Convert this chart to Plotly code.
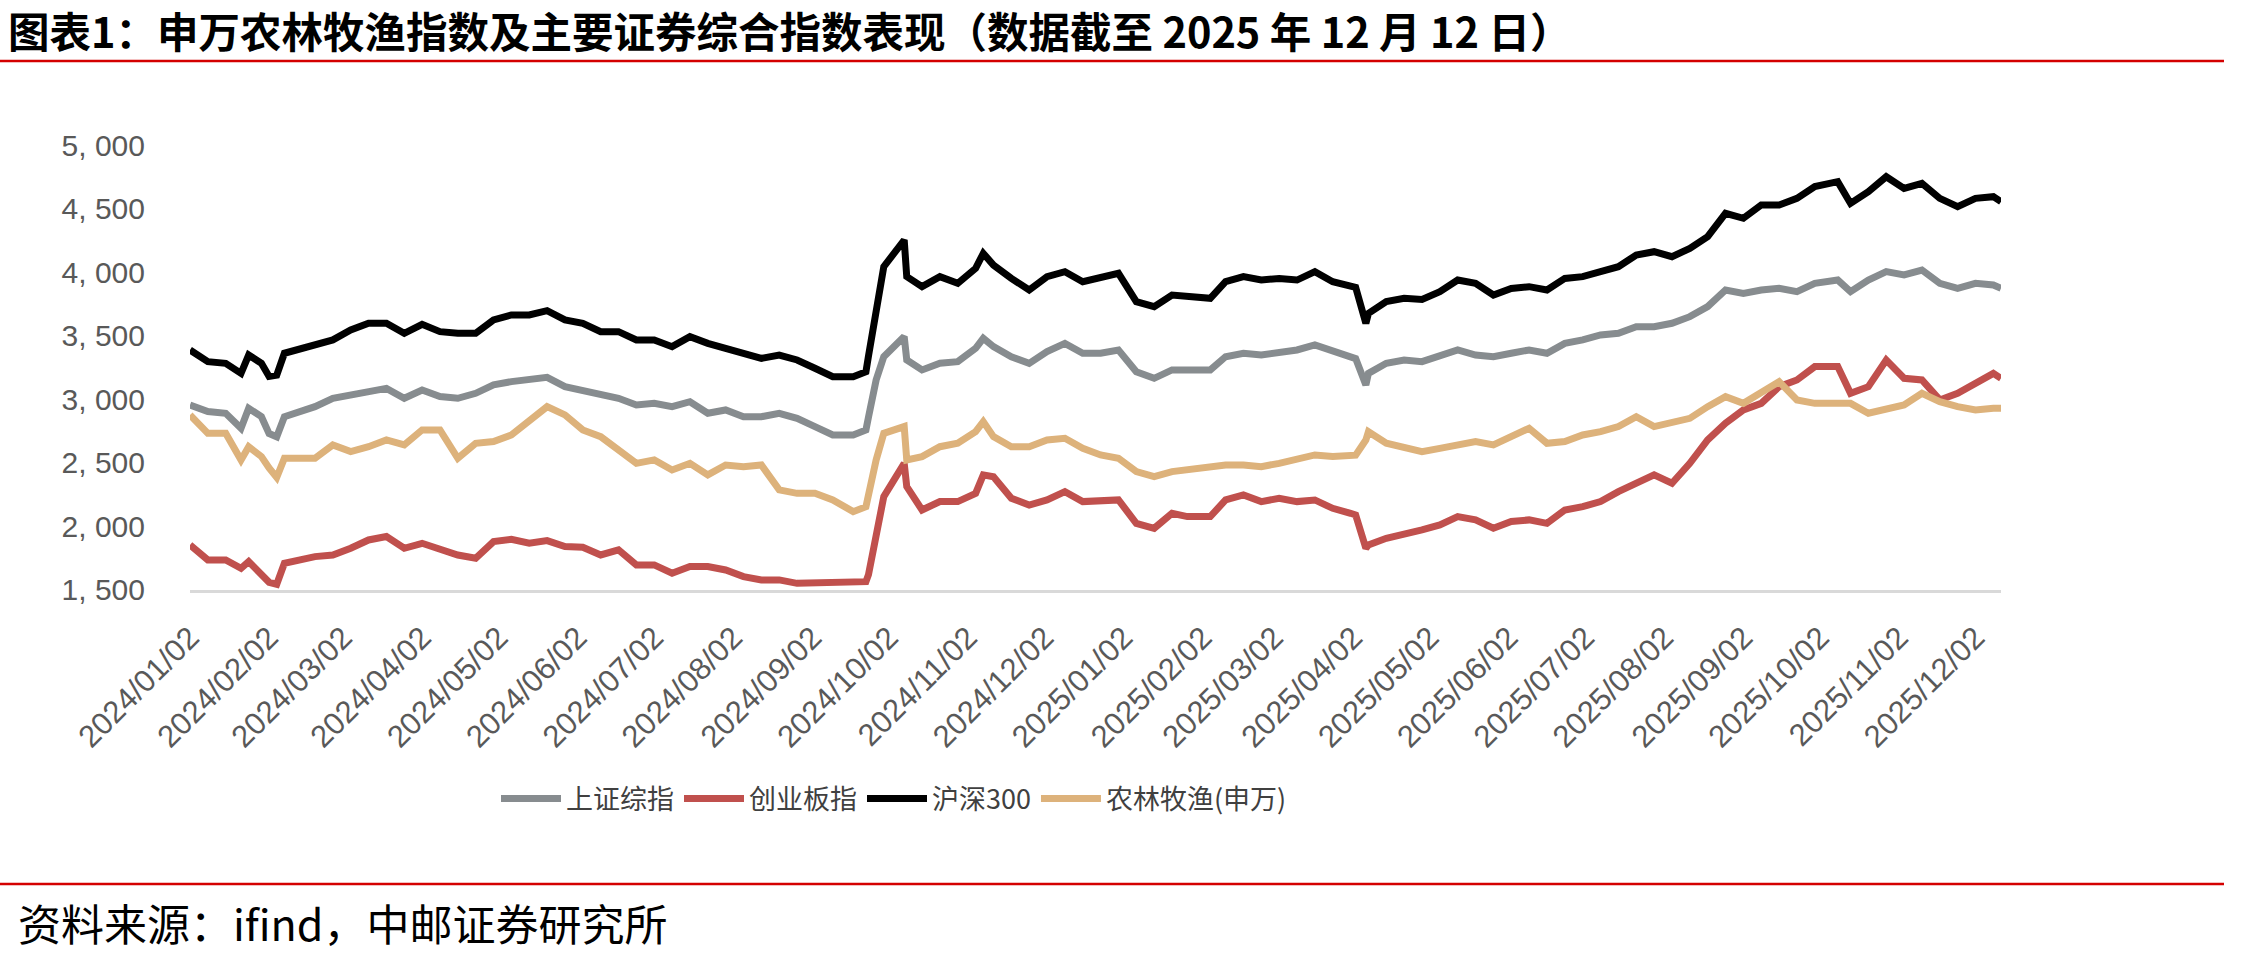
import plotly.graph_objects as go

# ---------------- data ----------------
DATES = [
    "2024-01-02", "2024-01-09", "2024-01-16", "2024-01-22", "2024-01-25", "2024-01-30", "2024-02-02",
    "2024-02-05", "2024-02-08", "2024-02-20", "2024-02-27", "2024-03-05", "2024-03-12", "2024-03-19",
    "2024-03-26", "2024-04-02", "2024-04-09", "2024-04-16", "2024-04-23", "2024-04-30", "2024-05-07",
    "2024-05-14", "2024-05-21", "2024-05-28", "2024-06-04", "2024-06-11", "2024-06-18", "2024-06-25",
    "2024-07-02", "2024-07-09", "2024-07-16", "2024-07-23", "2024-07-30", "2024-08-06", "2024-08-13",
    "2024-08-20", "2024-08-27", "2024-09-03", "2024-09-10", "2024-09-18", "2024-09-23", "2024-09-24",
    "2024-09-27", "2024-09-30", "2024-10-08", "2024-10-09", "2024-10-15", "2024-10-22", "2024-10-29",
    "2024-11-05", "2024-11-08", "2024-11-12", "2024-11-19", "2024-11-26", "2024-12-03", "2024-12-10",
    "2024-12-17",
    "2024-12-24", "2024-12-31", "2025-01-07", "2025-01-14", "2025-01-21", "2025-01-27", "2025-02-05",
    "2025-02-11", "2025-02-18", "2025-02-25", "2025-03-04", "2025-03-11", "2025-03-18", "2025-03-25",
    "2025-04-01", "2025-04-03", "2025-04-07", "2025-04-08", "2025-04-15", "2025-04-22", "2025-04-29",
    "2025-05-06", "2025-05-13", "2025-05-20", "2025-05-27", "2025-06-03", "2025-06-10", "2025-06-17",
    "2025-06-24", "2025-07-01", "2025-07-08", "2025-07-15", "2025-07-22", "2025-07-29", "2025-08-05",
    "2025-08-12", "2025-08-19", "2025-08-26", "2025-09-02", "2025-09-09", "2025-09-16", "2025-09-23",
    "2025-09-30", "2025-10-09", "2025-10-14", "2025-10-21", "2025-10-28", "2025-11-04", "2025-11-11",
    "2025-11-18", "2025-11-25", "2025-12-02", "2025-12-09", "2025-12-12",
]

SSE = [  # 上证综指
    2955, 2903, 2890, 2772, 2929, 2863, 2730, 2705, 2863, 2942, 3008, 3034, 3073, 3086,
    3008, 3073, 3021, 3008, 3047, 3113, 3139, 3152, 3173, 3099, 3073, 3034, 3008, 2955,
    2968, 2942, 2981, 2890, 2916, 2863, 2863, 2890, 2850, 2785, 2719, 2719, 2758, 2860,
    3152, 3335, 3493, 3309, 3231, 3283, 3296, 3401, 3480, 3414, 3335, 3283, 3375, 3440, 3362,
    3362, 3388, 3217, 3165, 3231, 3231, 3231, 3335, 3362, 3348, 3362, 3388, 3427, 3375,
    3335, 3320, 3113, 3204, 3283, 3309, 3296, 3348, 3388, 3348, 3335, 3362, 3388, 3362,
    3440, 3467, 3506, 3519, 3571, 3571, 3598, 3650, 3729, 3860, 3833, 3860, 3873, 3847,
    3912, 3938, 3847, 3938, 4004, 3978, 4017, 3912, 3873, 3912, 3899, 3873,
]

CHINEXT = [  # 创业板指
    1854, 1736, 1736, 1670, 1723, 1631, 1560, 1545, 1710, 1762, 1775, 1828, 1893, 1920,
    1828, 1867, 1815, 1775, 1749, 1880, 1898, 1867, 1888, 1841, 1836, 1775, 1815, 1697,
    1697, 1631, 1684, 1684, 1657, 1605, 1579, 1579, 1552, 1552, 1552, 1552, 1565, 1620,
    1946, 2234, 2496, 2313, 2129, 2195, 2195, 2260, 2405, 2391, 2221, 2168, 2208, 2273, 2195,
    2195, 2208, 2024, 1985, 2103, 2077, 2077, 2208, 2247, 2195, 2221, 2195, 2208, 2142,
    2103, 2090, 1828, 1854, 1906, 1933, 1972, 2011, 2077, 2051, 1985, 2038, 2051, 2024,
    2129, 2155, 2195, 2273, 2339, 2405, 2339, 2496, 2680, 2811, 2916, 2968, 3099, 3152,
    3257, 3257, 3047, 3099, 3309, 3165, 3152, 2995, 3047, 3126, 3204, 3165,
]

CSI300 = [  # 沪深300
    3388, 3296, 3283, 3204, 3348, 3283, 3180, 3190, 3362, 3427, 3467, 3545, 3598, 3598,
    3519, 3590, 3532, 3519, 3519, 3624, 3663, 3663, 3697, 3624, 3598, 3532, 3532, 3467,
    3467, 3414, 3493, 3440, 3401, 3348, 3322, 3348, 3309, 3244, 3178, 3178, 3217, 3340,
    3676, 4043, 4253, 3965, 3886, 3965, 3912, 4030, 4148, 4056, 3951, 3860, 3965, 4004, 3925,
    3965, 3991, 3768, 3729, 3820, 3807, 3794, 3925, 3965, 3938, 3951, 3938, 4004, 3925,
    3899, 3880, 3597, 3676, 3768, 3794, 3786, 3846, 3938, 3912, 3820, 3872, 3886, 3860,
    3951, 3965, 4004, 4043, 4135, 4161, 4122, 4187, 4279, 4463, 4424, 4528, 4528, 4581,
    4673, 4712, 4541, 4633, 4751, 4659, 4699, 4581, 4515, 4581, 4594, 4555,
]

AGRI = [  # 农林牧渔(申万)
    2877, 2732, 2732, 2523, 2627, 2549, 2460, 2385, 2536, 2536, 2641, 2588, 2627, 2680,
    2641, 2759, 2759, 2536, 2654, 2667, 2719, 2837, 2942, 2877, 2759, 2706, 2601, 2496,
    2523, 2444, 2496, 2405, 2483, 2470, 2483, 2287, 2260, 2260, 2208, 2116, 2155, 2250,
    2523, 2732, 2785, 2523, 2549, 2627, 2654, 2745, 2824, 2706, 2627, 2627, 2680, 2693, 2614,
    2562, 2536, 2431, 2391, 2431, 2444, 2457, 2483, 2483, 2470, 2496, 2536, 2562, 2549,
    2562, 2560, 2680, 2745, 2654, 2627, 2588, 2614, 2641, 2667, 2641, 2706, 2772, 2654,
    2667, 2719, 2745, 2785, 2863, 2785, 2824, 2850, 2942, 3021, 2968, 3047, 3139, 2995,
    2968, 2968, 2968, 2890, 2916, 2955, 3047, 2981, 2942, 2916, 2929, 2929,
]

SERIES_NAMES = ["上证综指", "创业板指", "沪深300", "农林牧渔(申万)"]
SERIES_COLORS = ["#878C8F", "#C0504D", "#000000", "#DDB27B"]

X_TICK_LABELS = [
    "2024/01/02", "2024/02/02", "2024/03/02", "2024/04/02", "2024/05/02", "2024/06/02",
    "2024/07/02", "2024/08/02", "2024/09/02", "2024/10/02", "2024/11/02", "2024/12/02",
    "2025/01/02", "2025/02/02", "2025/03/02", "2025/04/02", "2025/05/02", "2025/06/02",
    "2025/07/02", "2025/08/02", "2025/09/02", "2025/10/02", "2025/11/02", "2025/12/02",
]
Y_TICK_VALUES = [1500, 2000, 2500, 3000, 3500, 4000, 4500, 5000]
Y_TICK_LABELS = ["1, 500", "2, 000", "2, 500", "3, 000", "3, 500", "4, 000", "4, 500", "5, 000"]

TITLE = "图表1：申万农林牧渔指数及主要证券综合指数表现（数据截至 2025 年 12 月 12 日）"
SOURCE = "资料来源：ifind，中邮证券研究所"

# ---------------- figure ----------------
W, H = 2257, 960
PL, PR, PT, PB = 190, 2001, 145, 590  # plot area in pixels


def px_x(x):
    return (x - PL) / (PR - PL)


def px_y(y):
    return (PB - y) / (PB - PT)


fig = go.Figure()
for name, color, vals in zip(SERIES_NAMES, SERIES_COLORS, [SSE, CHINEXT, CSI300, AGRI]):
    fig.add_trace(go.Scatter(
        x=DATES, y=vals, mode="lines", name=name,
        line=dict(color=color, width=7, shape="linear"),
        hoverinfo="skip",
    ))

fig.update_layout(
    width=W, height=H,
    margin=dict(l=PL, r=W - PR, t=PT, b=H - PB, pad=0),
    paper_bgcolor="white", plot_bgcolor="white",
    showlegend=True,
    legend=dict(
        orientation="h", x=px_x(894), xanchor="center", y=px_y(799), yanchor="middle",
        font=dict(family="Noto Sans CJK SC", size=27, color="#404040"),
        itemwidth=60, tracegroupgap=0, bgcolor="rgba(0,0,0,0)",
    ),
    font=dict(family="Liberation Sans"),
)

fig.update_xaxes(
    type="date",
    range=["2024-01-02", "2025-12-12"],
    tickvals=[t.replace("/", "-") for t in X_TICK_LABELS],
    ticktext=X_TICK_LABELS,
    tickangle=-45,
    tickfont=dict(family="Liberation Sans", size=31, color="#595959"),
    showgrid=False, zeroline=False,
    showline=True, linecolor="#D9D9D9", linewidth=3,
    ticks="", ticklabelstandoff=14,
)
fig.update_yaxes(
    range=[1499.5, 5000.5],
    tickvals=Y_TICK_VALUES, ticktext=Y_TICK_LABELS,
    tickfont=dict(family="Liberation Sans", size=30, color="#595959"),
    showgrid=False, zeroline=False, showline=False,
    ticks="", ticklabelstandoff=44,
)

# title, divider lines, source
fig.add_annotation(
    text="<b>" + TITLE + "</b>", xref="paper", yref="paper",
    x=px_x(7), y=px_y(30), xanchor="left", yanchor="middle", showarrow=False,
    borderpad=0,
    font=dict(family="Noto Sans CJK SC", size=41.5, color="#000000"),
)
for yy in (61, 884):
    fig.add_shape(
        type="line", xref="paper", yref="paper",
        x0=px_x(0), x1=px_x(2224), y0=px_y(yy), y1=px_y(yy),
        line=dict(color="#D40000", width=2.5),
    )
fig.add_annotation(
    text=SOURCE, xref="paper", yref="paper",
    x=px_x(17), y=px_y(922), xanchor="left", yanchor="middle", showarrow=False,
    borderpad=0,
    font=dict(family="Noto Sans CJK SC", size=43, color="#000000"),
)

fig.write_html("out.html")
